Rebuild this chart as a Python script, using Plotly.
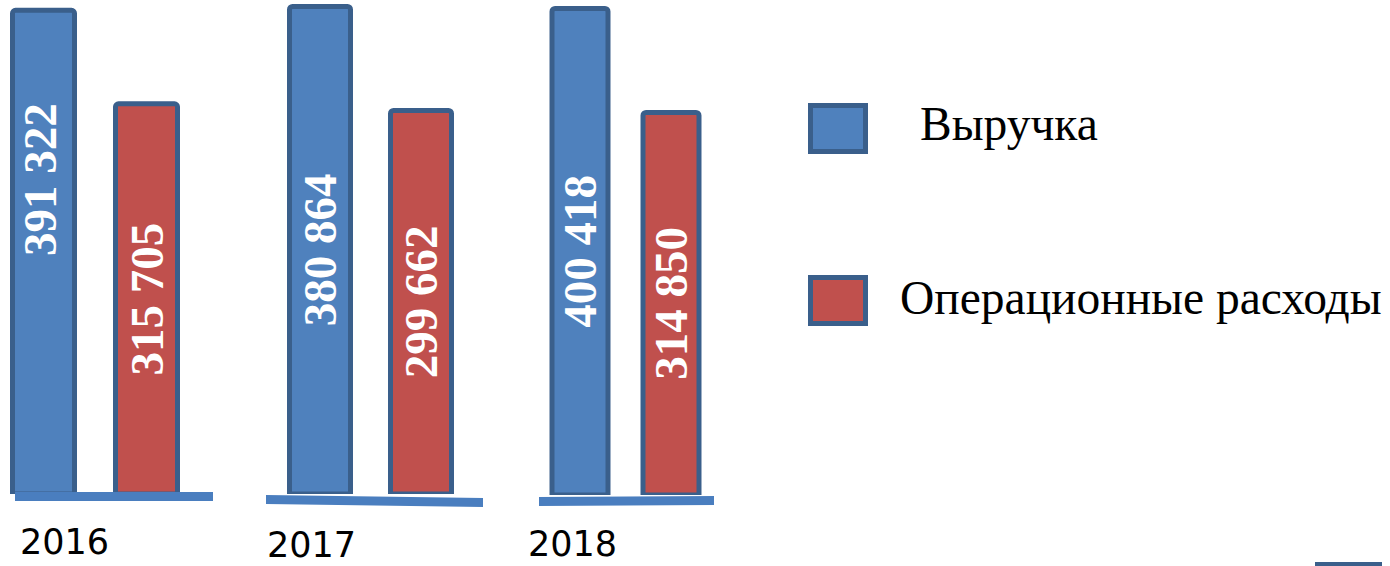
import plotly.graph_objects as go

W, H = 1390, 566

years = ["2016", "2017", "2018"]
series = ["Выручка", "Операционные расходы"]
revenue = [391322, 380864, 400418]
opex = [315705, 299662, 314850]

FILL = ["#4F81BD", "#C0504D"]
EDGE = "#3A5F8B"
STRIP = "#4A7EBF"
SERIF = "Liberation Serif, Times New Roman, serif"
SANS = "DejaVu Sans, Open Sans, sans-serif"

# Geometry of each year's panel, in pixels: first bar centre, distance between
# bars, bar width, baseline row and pixels per unit of value.
panels = [
    dict(c0=43.5, step=103, bw=62, base=494, scale=0.001236),
    dict(c0=320, step=101, bw=61, base=494, scale=0.00128),
    dict(c0=580, step=91, bw=56, base=495, scale=0.001215),
]
# Where the value label sits along each bar (fraction of the bar height)
# and its sideways nudge in pixels.
label_pos = [[0.65, 0.5], [0.5, 0.5], [0.5, 0.5]]
label_shift = [[-4, 0], [0, 0], [0, 0]]
# Year caption centre x and bottom y, in pixels.
year_pos = [(64, 563), (311, 566), (572, 565)]
# Base strip under each pair: x0, x1, top-left y, top-right y, thickness.
strips = [(15, 213, 492, 492, 9), (266, 483, 495, 498, 9), (539, 714, 497, 496, 9)]


def px(x):
    return x / W


def py(y):
    return 1 - y / H


fig = go.Figure()
layout_axes = {}
annotations = []
shapes = []

for i, yr in enumerate(years):
    p = panels[i]
    left = max(0.0, p["c0"] - p["step"] / 2)
    right = p["c0"] + p["step"] * 1.5
    xr = [(left - p["c0"]) / p["step"], (right - p["c0"]) / p["step"]]
    sfx = "" if i == 0 else str(i + 1)
    vals = [revenue[i], opex[i]]

    fig.add_trace(go.Bar(
        x=series, y=vals,
        width=p["bw"] / p["step"],
        marker=dict(color=FILL, line=dict(color=EDGE, width=5)),
        xaxis="x" + sfx, yaxis="y" + sfx,
        showlegend=False, hoverinfo="skip",
    ))
    layout_axes["xaxis" + sfx] = dict(
        domain=[px(left), px(right)], range=xr, visible=False,
        type="category", categoryarray=series, anchor="y" + sfx,
    )
    layout_axes["yaxis" + sfx] = dict(
        domain=[py(p["base"]), 1], range=[0, p["base"] / p["scale"]],
        visible=False, anchor="x" + sfx,
    )

    for j, v in enumerate(vals):
        annotations.append(dict(
            x=series[j], y=v * label_pos[i][j],
            xref="x" + sfx, yref="y" + sfx, xshift=label_shift[i][j],
            text=f"{v:,}".replace(",", " "),
            textangle=-90, showarrow=False,
            font=dict(family=SERIF, size=47, color="white", weight="bold"),
        ))

    annotations.append(dict(
        x=px(year_pos[i][0]), y=py(year_pos[i][1]), xref="paper", yref="paper",
        text=yr, showarrow=False, xanchor="center", yanchor="bottom",
        borderpad=0,
        font=dict(family=SANS, size=35, color="black"),
    ))

    x0, x1, ya, yb, t = strips[i]
    shapes.append(dict(
        type="path", xref="paper", yref="paper", layer="above",
        path=(f"M {px(x0)},{py(ya)} L {px(x1)},{py(yb)} "
              f"L {px(x1)},{py(yb + t)} L {px(x0)},{py(ya + t)} Z"),
        fillcolor=STRIP, line=dict(width=0),
    ))

# Legend: large swatches with serif captions
legend_rows = [(105.5, 151.5, 918, 124), (277.5, 323.5, 898, 298)]
for k, name in enumerate(series):
    y0, y1, tx, ty = legend_rows[k]
    shapes.append(dict(
        type="rect", xref="paper", yref="paper",
        x0=px(810.5), x1=px(865.5), y0=py(y1), y1=py(y0),
        fillcolor=FILL[k], line=dict(color=EDGE, width=5),
    ))
    annotations.append(dict(
        x=px(tx), y=py(ty), xref="paper", yref="paper",
        text=name, showarrow=False, xanchor="left", yanchor="middle",
        font=dict(family=SERIF, size=47.5, color="black"),
    ))

# Edge of a further element peeking in at the bottom right
shapes.append(dict(
    type="rect", xref="paper", yref="paper",
    x0=px(1315), x1=px(1382), y0=py(575), y1=py(562),
    fillcolor=EDGE, line=dict(width=0),
))

fig.update_layout(
    width=W, height=H,
    margin=dict(l=0, r=0, t=0, b=0),
    paper_bgcolor="white", plot_bgcolor="rgba(0,0,0,0)",
    barcornerradius=3,
    annotations=annotations, shapes=shapes,
    **layout_axes,
)

fig.write_html("out.html")
